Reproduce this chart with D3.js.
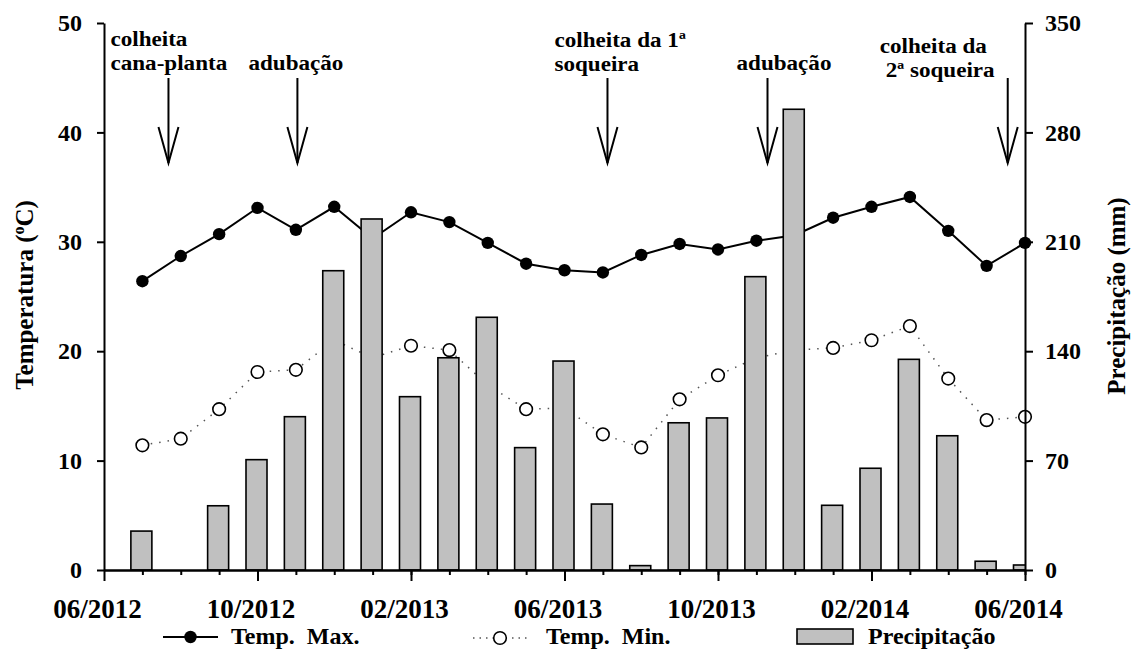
<!DOCTYPE html>
<html>
<head>
<meta charset="utf-8">
<script src="https://cdnjs.cloudflare.com/ajax/libs/d3/7.8.5/d3.min.js"></script>
<style>
  body { margin: 0; background: #fff; }
  svg text { font-family: "Liberation Serif", "Tinos", "Times New Roman", "DejaVu Serif", serif; font-weight: bold; fill: #000; }
</style>
</head>
<body>
<div id="chart"></div>
<script>
// monthly values 07/2012 .. 06/2014 (month index 1..24, 0 = 06/2012)
var months = d3.range(1, 25);
var tmax = [26.4, 28.7, 30.7, 33.1, 31.1, 33.2, 30.3, 32.7, 31.8, 29.9, 28.0, 27.4,
            27.2, 28.8, 29.8, 29.3, 30.1, 30.6, 32.2, 33.2, 34.1, 31.0, 27.8, 29.9];
var tmin = [11.4, 12.0, 14.7, 18.1, 18.3, 21.0, 19.4, 20.5, 20.1, 16.9, 14.7, 14.8,
            12.4, 11.2, 15.6, 17.8, 19.4, 20.1, 20.3, 21.0, 22.3, 17.5, 13.7, 14.0];
var precip = [24.9, 0, 41.1, 70.6, 98.1, 191.5, 224.6, 110.9, 135.8, 161.7, 78.3, 133.7,
              42.2, 2.8, 94.2, 97.3, 187.7, 294.8, 41.4, 65.1, 134.8, 85.9, 5.6, 3.2];

var xTickValues = [0, 4, 8, 12, 16, 20, 24];
var xTickLabels = ["06/2012", "10/2012", "02/2013", "06/2013", "10/2013", "02/2014", "06/2014"];
var tempTicks = [0, 10, 20, 30, 40, 50];
var precTicks = [0, 70, 140, 210, 280, 350];

// event markers (month position of the arrow, label lines)
var events = [
    { m: 1.68, lines: ["colheita", "cana-planta"], dx: -58, y0: 46 },
    { m: 5.04, lines: ["adubação"], dx: -49, y0: 70 },
    { m: 13.12, lines: ["colheita da 1ª", "soqueira"], dx: -53, y0: 47 },
    { m: 17.29, lines: ["adubação"], dx: -31, y0: 70 },
    { m: 23.55, lines: ["colheita da", "2ª soqueira"], dx: -128, y0: 53, dx2: -122 }
];

var serif = '"Liberation Serif", "Tinos", "Times New Roman", "DejaVu Serif", serif';
var width = 1131, height = 650;

var svg = d3.select("#chart").append("svg")
    .attr("width", width)
    .attr("height", height)
    .attr("font-family", serif)
    .attr("font-weight", "bold");

var x = d3.scaleLinear().domain([0, 24]).range([104, 1025]);
var yT = d3.scaleLinear().domain([0, 50]).range([570, 23]);
var yP = d3.scaleLinear().domain([0, 350]).range([570, 23]);

svg.append("clipPath").attr("id", "plotclip")
    .append("rect")
    .attr("x", x(0)).attr("y", 0)
    .attr("width", x(24) - x(0)).attr("height", 570);

var line = d3.line()
    .x(function (d, i) { return x(months[i]); })
    .y(function (d) { return yT(d); });

// Temp. Min. (dotted line, open circles)
svg.append("path")
    .datum(tmin)
    .attr("d", line)
    .attr("fill", "none")
    .attr("stroke", "#555")
    .attr("stroke-width", 1.5)
    .attr("stroke-dasharray", "1.5,7");

svg.selectAll(".minpt")
    .data(tmin)
    .enter().append("circle")
    .attr("class", "minpt")
    .attr("cx", function (d, i) { return x(months[i]); })
    .attr("cy", function (d) { return yT(d); })
    .attr("r", 6.3)
    .attr("fill", "#fff")
    .attr("stroke", "#000")
    .attr("stroke-width", 1.6);

// Temp. Max. (solid line, filled dots)
svg.append("path")
    .datum(tmax)
    .attr("d", line)
    .attr("fill", "none")
    .attr("stroke", "#000")
    .attr("stroke-width", 2);

svg.selectAll(".maxpt")
    .data(tmax)
    .enter().append("circle")
    .attr("class", "maxpt")
    .attr("cx", function (d, i) { return x(months[i]); })
    .attr("cy", function (d) { return yT(d); })
    .attr("r", 6.2)
    .attr("fill", "#000");

// precipitation bars on top
var barW = 21;
svg.append("g")
    .attr("clip-path", "url(#plotclip)")
    .selectAll("rect")
    .data(precip.map(function (v, i) { return { m: months[i], v: v }; })
        .filter(function (d) { return d.v > 0; }))
    .enter().append("rect")
    .attr("x", function (d) { return x(d.m) - 1 - barW / 2; })
    .attr("y", function (d) { return yP(d.v); })
    .attr("width", barW)
    .attr("height", function (d) { return yP(0) - yP(d.v); })
    .attr("fill", "#c0c0c0")
    .attr("stroke", "#000")
    .attr("stroke-width", 1.6);

// axes
function styleAxis(g, fs) {
    g.attr("font-family", serif).attr("font-size", fs);
    g.selectAll("path, line").attr("stroke", "#000").attr("stroke-width", 2);
    g.selectAll("text").attr("font-size", fs);
}

svg.append("g")
    .attr("transform", "translate(" + x(0) + ",0)")
    .call(d3.axisLeft(yT).tickValues(tempTicks).tickSize(7).tickSizeOuter(0).tickPadding(15))
    .call(styleAxis, 24);

svg.append("g")
    .attr("transform", "translate(" + x(24) + ",0)")
    .call(d3.axisRight(yP).tickValues(precTicks).tickSize(8).tickSizeOuter(0).tickPadding(12))
    .call(styleAxis, 24);

svg.append("g")
    .attr("transform", "translate(0,570)")
    .call(d3.axisBottom(x).tickValues(months).tickSize(5).tickSizeOuter(0).tickFormat(""))
    .call(styleAxis, 10);

var gx = svg.append("g")
    .attr("transform", "translate(0,570)")
    .call(d3.axisBottom(x).tickValues(xTickValues).tickSize(11).tickSizeOuter(0).tickPadding(18)
        .tickFormat(function (d, i) { return xTickLabels[i]; }))
    .call(styleAxis, 27);
gx.selectAll("text").attr("dx", -7);

// axis titles
var tl = svg.append("text")
    .attr("transform", "translate(33,295) rotate(-90)")
    .attr("text-anchor", "middle")
    .attr("font-size", 25);
tl.append("tspan").text("Temperatura (");
tl.append("tspan").attr("font-size", 16).attr("dy", -9).text("o");
tl.append("tspan").attr("dy", 9).text("C)");

svg.append("text")
    .attr("transform", "translate(1125,296) rotate(-90)")
    .attr("text-anchor", "middle")
    .attr("font-size", 25)
    .text("Precipitação (mm)");

// event arrows and labels
events.forEach(function (e) {
    var ax = x(e.m);
    svg.append("line")
        .attr("x1", ax).attr("x2", ax).attr("y1", 78).attr("y2", 163)
        .attr("stroke", "#000").attr("stroke-width", 2);
    svg.append("path")
        .attr("d", "M" + (ax - 10) + ",127 L" + ax + ",163 L" + (ax + 10) + ",127")
        .attr("fill", "none").attr("stroke", "#000").attr("stroke-width", 2);
    e.lines.forEach(function (t, k) {
        var lx = ax + (k === 1 && e.dx2 !== undefined ? e.dx2 : e.dx);
        var ly = e.y0 + k * 23.5;
        svg.append("text")
            .attr("transform", "translate(" + lx + "," + ly + ") scale(1.1,1)")
            .attr("font-size", 21)
            .text(t);
    });
});

// legend
var lg = svg.append("g");
lg.append("line").attr("x1", 163).attr("x2", 218).attr("y1", 637).attr("y2", 637)
    .attr("stroke", "#000").attr("stroke-width", 2);
lg.append("circle").attr("cx", 190.5).attr("cy", 637).attr("r", 6.2).attr("fill", "#000");
lg.append("text").attr("x", 231).attr("y", 644).attr("font-size", 24)
    .attr("xml:space", "preserve").text("Temp.  Max.");

lg.append("line").attr("x1", 473).attr("x2", 527).attr("y1", 638).attr("y2", 638)
    .attr("stroke", "#555").attr("stroke-width", 1.5).attr("stroke-dasharray", "1.5,5");
lg.append("circle").attr("cx", 500).attr("cy", 638).attr("r", 6.3)
    .attr("fill", "#fff").attr("stroke", "#000").attr("stroke-width", 1.6);
lg.append("text").attr("x", 546).attr("y", 644).attr("font-size", 24)
    .attr("xml:space", "preserve").text("Temp.  Min.");

lg.append("rect").attr("x", 797).attr("y", 629).attr("width", 56).attr("height", 15)
    .attr("fill", "#c0c0c0").attr("stroke", "#000").attr("stroke-width", 1.6);
lg.append("text").attr("x", 868).attr("y", 644).attr("font-size", 24).text("Precipitação");
</script>
</body>
</html>
